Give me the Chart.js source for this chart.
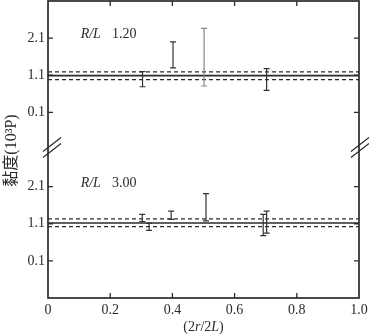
<!DOCTYPE html>
<html>
<head>
<meta charset="utf-8">
<script src="https://cdn.jsdelivr.net/npm/chart.js@4/dist/chart.umd.min.js"></script>
<style>
  html, body { margin: 0; padding: 0; background: #ffffff; }
  #wrap { width: 369px; height: 335px; }
</style>
</head>
<body>
<div id="wrap"><canvas id="c" width="369" height="335"></canvas></div>
<script>
// ---------- data ----------
const xTicks = [0, 0.2, 0.4, 0.6, 0.8, 1.0];
const yTicks = [0.1, 1.1, 2.1];

// upper panel, R/L = 1.20
const topLabel = "1.20";
const topX  = [0.304, 0.402, 0.502, 0.703];
const topHi = [1.20, 2.00, 2.36, 1.28];
const topLo = [0.79, 1.30, 0.81, 0.69];
const topGrey = [false, false, true, false];
const topMean = 1.09;
const topBand = [0.98, 1.19];

// lower panel, R/L = 3.00
const botLabel = "3.00";
const botX  = [0.303, 0.325, 0.396, 0.508, 0.692, 0.703];
const botHi = [1.35, 1.11, 1.44, 1.91, 1.35, 1.44];
const botLo = [1.16, 0.92, 1.22, 1.18, 0.78, 0.85];
const botGrey = [false, false, false, false, false, false];
const botMean = 1.12;
const botBand = [1.02, 1.23];

const yMin = -0.9, yMax = 3.1;

// ---------- helpers ----------
const SERIF = '"Liberation Serif", "Times New Roman", serif';
const INK = '#2b2b2b';

function hLine(y, axis, dashed) {
  return {
    type: 'line',
    data: [{x: 0, y: y}, {x: 1, y: y}],
    yAxisID: axis,
    borderColor: INK,
    borderWidth: dashed ? 1.3 : 1.6,
    borderDash: dashed ? [4, 3] : [],
    pointRadius: 0,
    fill: false,
    tension: 0
  };
}

const datasets = [
  hLine(topMean, 'yTop', false),
  hLine(topBand[0], 'yTop', true),
  hLine(topBand[1], 'yTop', true),
  hLine(botMean, 'yBot', false),
  hLine(botBand[0], 'yBot', true),
  hLine(botBand[1], 'yBot', true)
];

function yAxis() {
  return {
    type: 'linear',
    position: 'left',
    stack: 'v',
    stackWeight: 1,
    min: yMin,
    max: yMax,
    grid: { display: false, drawTicks: false },
    border: { display: false },
    afterBuildTicks: s => { s.ticks = yTicks.map(v => ({ value: v })); },
    afterFit: s => { s.width = 48; s.paddingTop = 0; s.paddingBottom = 0; },
    ticks: {
      padding: 3,
      color: INK,
      font: { family: SERIF, size: 14 },
      callback: v => Number(v).toFixed(1)
    }
  };
}

const deco = {
  id: 'deco',
  afterDatasetsDraw(chart) {
    const ctx = chart.ctx;
    const xs = chart.scales.x;
    const panels = [
      { s: chart.scales.yTop, X: topX, H: topHi, L: topLo, G: topGrey },
      { s: chart.scales.yBot, X: botX, H: botHi, L: botLo, G: botGrey }
    ];
    ctx.save();
    ctx.lineWidth = 1.2;
    panels.forEach(p => {
      p.X.forEach((xv, i) => {
        const px = xs.getPixelForValue(xv);
        const yh = p.s.getPixelForValue(p.H[i]);
        const yl = p.s.getPixelForValue(p.L[i]);
        ctx.strokeStyle = p.G[i] ? '#8a8a8a' : '#333333';
        ctx.beginPath();
        ctx.moveTo(px, yh); ctx.lineTo(px, yl);
        ctx.moveTo(px - 3, yh); ctx.lineTo(px + 3, yh);
        ctx.moveTo(px - 3, yl); ctx.lineTo(px + 3, yl);
        ctx.stroke();
      });
    });
    ctx.restore();
  },
  afterDraw(chart) {
    const ctx = chart.ctx;
    const a = chart.chartArea;
    const xs = chart.scales.x;
    const yT = chart.scales.yTop, yB = chart.scales.yBot;
    ctx.save();
    ctx.strokeStyle = INK;
    ctx.lineWidth = 1.7;
    // frame
    ctx.strokeRect(a.left, a.top, a.right - a.left, a.bottom - a.top);
    // ticks (inward)
    ctx.lineWidth = 1.3;
    ctx.beginPath();
    xTicks.forEach(v => {
      if (v <= 0 || v >= 1) return;
      const px = xs.getPixelForValue(v);
      ctx.moveTo(px, a.bottom); ctx.lineTo(px, a.bottom - 5);
      ctx.moveTo(px, a.top); ctx.lineTo(px, a.top + 5);
    });
    [yT, yB].forEach(s => {
      yTicks.forEach(v => {
        const py = s.getPixelForValue(v);
        ctx.moveTo(a.left, py); ctx.lineTo(a.left + 5, py);
        ctx.moveTo(a.right, py); ctx.lineTo(a.right - 5, py);
      });
    });
    ctx.stroke();
    // axis breaks at the junction of the two stacked panels
    const yb = Math.min(yT.bottom, yB.bottom) - 2;
    ctx.lineWidth = 1.2;
    ctx.beginPath();
    [[a.left + 4, 9], [a.right + 1, 9]].forEach(([cx, w]) => {
      [-3, 3].forEach(off => {
        ctx.moveTo(cx - w, yb + off + 7);
        ctx.lineTo(cx + w, yb + off - 7);
      });
    });
    ctx.stroke();

    // panel annotations
    ctx.fillStyle = INK;
    ctx.textBaseline = 'middle';
    ctx.textAlign = 'left';
    [[yT, topLabel], [yB, botLabel]].forEach(([s, lab]) => {
      const px = xs.getPixelForValue(0.105);
      const py = s.getPixelForValue(2.2);
      ctx.font = 'italic 14px ' + SERIF;
      ctx.fillText('R/L', px, py);
      const w = ctx.measureText('R/L').width;
      ctx.font = '14px ' + SERIF;
      ctx.fillText(lab, px + w + 11, py);
    });

    // x axis title "(2r/2L)"
    const parts = [['(2', false], ['r', true], ['/2', false], ['L', true], [')', false]];
    let total = 0;
    parts.forEach(([t, it]) => {
      ctx.font = (it ? 'italic ' : '') + '14px ' + SERIF;
      total += ctx.measureText(t).width;
    });
    let tx = (a.left + a.right) / 2 - total / 2;
    parts.forEach(([t, it]) => {
      ctx.font = (it ? 'italic ' : '') + '14px ' + SERIF;
      ctx.fillText(t, tx, 327);
      tx += ctx.measureText(t).width;
    });

    // y axis title
    ctx.save();
    ctx.translate(12, (a.top + a.bottom) / 2 + 1);
    ctx.rotate(-Math.PI / 2);
    ctx.textAlign = 'center';
    ctx.font = '16px ' + SERIF + ', "Noto Sans CJK SC"';
    ctx.fillText('黏度(10³P)', 0, 0);
    ctx.restore();
    ctx.restore();
  }
};

new Chart(document.getElementById('c'), {
  type: 'scatter',
  data: { datasets },
  options: {
    responsive: false,
    animation: false,
    events: [],
    layout: { padding: { top: 1, right: 10, left: 0, bottom: 0 } },
    plugins: { legend: { display: false }, tooltip: { enabled: false } },
    scales: {
      x: {
        type: 'linear',
        position: 'bottom',
        min: 0,
        max: 1,
        grid: { display: false, drawTicks: false },
        border: { display: false },
        afterBuildTicks: s => { s.ticks = xTicks.map(v => ({ value: v })); },
        afterFit: s => { s.height = 37; s.paddingLeft = 0; s.paddingRight = 0; },
        ticks: {
          padding: 4,
          color: INK,
          font: { family: SERIF, size: 14 },
          maxRotation: 0,
          callback: v => (v === 0 ? '0' : Number(v).toFixed(1))
        }
      },
      yBot: yAxis(),
      yTop: yAxis()
    }
  },
  plugins: [deco]
});
</script>
</body>
</html>
